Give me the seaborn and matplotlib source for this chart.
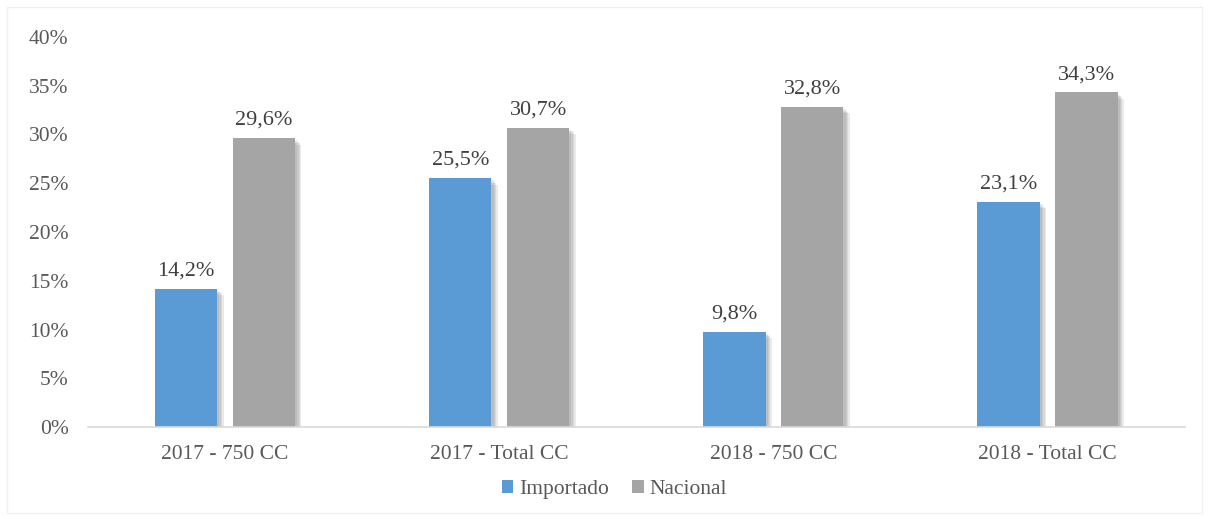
import matplotlib
matplotlib.use("Agg")
import matplotlib.pyplot as plt
import matplotlib.patheffects as pe
from matplotlib.patches import Rectangle
from matplotlib.ticker import FuncFormatter
import pandas as pd
import seaborn as sns

# Datos
categorias = ["2017 - 750 CC", "2017 - Total CC", "2018 - 750 CC", "2018 - Total CC"]
importado = [14.2, 25.5, 9.8, 23.1]
nacional = [29.6, 30.7, 32.8, 34.3]
series = ["Importado", "Nacional"]
colores = ["#5B9BD5", "#A5A5A5"]

df = pd.DataFrame({
    "categoria": categorias * 2,
    "serie": [series[0]] * 4 + [series[1]] * 4,
    "valor": importado + nacional,
})

sns.set_style("white")
plt.rcParams["font.family"] = ["Liberation Serif", "DejaVu Serif"]

fig = plt.figure(figsize=(12.09, 5.19), dpi=100)
ax = fig.add_axes([0.0728, 0.177, 0.907, 0.752])

sns.barplot(data=df, x="categoria", y="valor", hue="serie", order=categorias,
            hue_order=series, palette=colores, width=0.568, gap=0.2,
            saturation=1, linewidth=0, ax=ax, legend=True)

# sombra difusa hacia abajo a la derecha
sombra = [pe.SimplePatchShadow(offset=(d, -d), shadow_rgbFace="#808080", alpha=0.16)
          for d in (4.5, 3.5, 2.5, 1.5)] + [pe.Normal()]
for cont in ax.containers:
    for barra in cont:
        barra.set_path_effects(sombra)
    ax.bar_label(cont, labels=[f"{b.get_height():.1f}%".replace(".", ",") for b in cont],
                 padding=6, fontsize=16, color="#404040")

ax.set_xlim(-0.5, 3.5)
ax.set_ylim(0, 40)
ax.set_yticks(range(0, 41, 5))
ax.yaxis.set_major_formatter(FuncFormatter(lambda v, p: f"{v:.0f}%"))
ax.set_xlabel("")
ax.set_ylabel("")
for lado in ["top", "right", "left"]:
    ax.spines[lado].set_visible(False)
ax.spines["bottom"].set_color("#D9D9D9")
ax.spines["bottom"].set_linewidth(1.2)
ax.tick_params(axis="both", length=0, labelsize=15.5, colors="#595959")
ax.tick_params(axis="y", pad=14)
ax.tick_params(axis="x", pad=13)

ax.legend(loc="upper center", bbox_to_anchor=(0.48, -0.085), ncol=2, frameon=False,
          fontsize=15.5, handlelength=0.55, handleheight=0.55, handletextpad=0.25,
          columnspacing=1.1, labelcolor="#595959")

fig.patches.append(Rectangle((0.006, 0.012), 0.988, 0.975, transform=fig.transFigure,
                             fill=False, edgecolor="#F0F0F0", linewidth=1))

fig.savefig("out.png", dpi=100)
